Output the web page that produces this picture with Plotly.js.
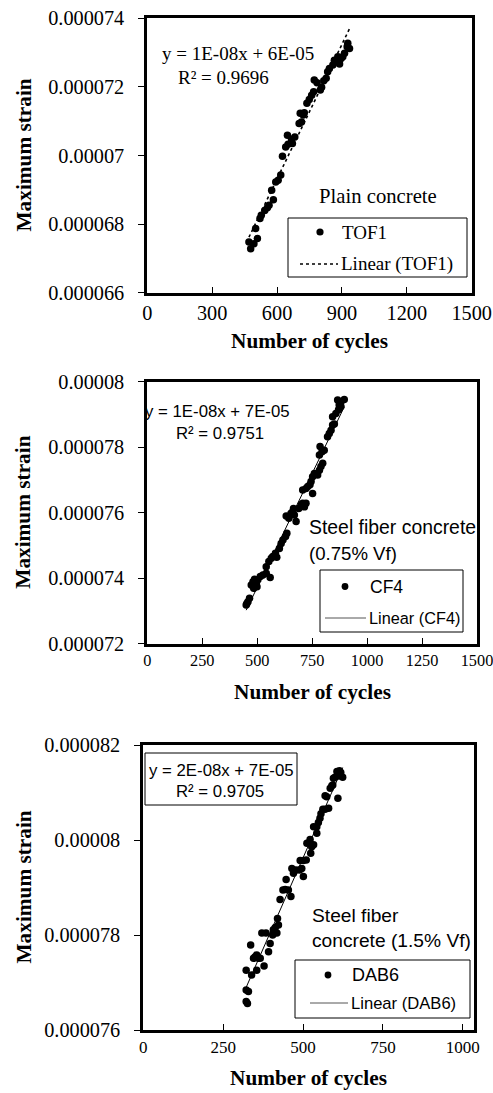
<!DOCTYPE html>
<html>
<head>
<meta charset="utf-8">
<script src="https://cdn.plot.ly/plotly-3.0.1.min.js"></script>
<style>
  html, body { margin: 0; padding: 0; background: #fff; }
  #chart { width: 493px; height: 1093px; }
</style>
</head>
<body>
<div id="chart"></div>
<script>
// ---------- DATA ----------
// Panel 1: Plain concrete (TOF1)
const tof1Cycles = [478,470,493,509,501,521,527,543,555,563,583,575,594,605,617,625,640,651,648,671,667,682,702,713,721,707,726,738,749,760,769,772,785,800,806,816,827,834,842,858,865,881,889,896,904,912,927,935,924];
const tof1Strain = [67.28e-6,67.48e-6,67.43e-6,67.58e-6,67.87e-6,68.16e-6,68.26e-6,68.40e-6,68.48e-6,68.55e-6,68.71e-6,68.99e-6,69.23e-6,69.28e-6,69.43e-6,69.98e-6,70.25e-6,70.33e-6,70.59e-6,70.35e-6,70.47e-6,70.54e-6,70.93e-6,70.98e-6,71.18e-6,71.23e-6,71.25e-6,71.52e-6,71.63e-6,71.76e-6,71.86e-6,72.20e-6,72.12e-6,71.91e-6,71.99e-6,72.18e-6,72.25e-6,72.44e-6,72.54e-6,72.64e-6,72.78e-6,72.88e-6,72.67e-6,72.83e-6,72.88e-6,72.98e-6,73.27e-6,73.12e-6,73.17e-6];

// Panel 2: Steel fiber concrete 0.75% Vf (CF4)
const cf4Cycles = [450,458,465,453,473,484,496,488,503,514,526,541,559,499,481,541,553,564,571,583,589,601,609,617,629,635,632,644,654,662,669,677,665,689,700,707,715,722,707,722,730,740,752,745,752,760,775,783,790,798,783,795,805,786,820,828,836,843,851,843,858,870,873,881,896,866,881];
const cf4Strain = [73.18e-6,73.28e-6,73.39e-6,73.23e-6,73.79e-6,73.69e-6,73.84e-6,73.97e-6,73.95e-6,74.05e-6,74.10e-6,74.15e-6,74.02e-6,73.74e-6,73.89e-6,74.35e-6,74.51e-6,74.61e-6,74.66e-6,74.76e-6,74.64e-6,74.91e-6,75.06e-6,75.17e-6,75.27e-6,75.37e-6,75.90e-6,75.83e-6,75.98e-6,76.03e-6,75.93e-6,75.73e-6,76.13e-6,76.13e-6,76.24e-6,76.29e-6,76.18e-6,76.29e-6,76.69e-6,76.74e-6,76.80e-6,76.85e-6,76.59e-6,76.95e-6,77.10e-6,77.20e-6,77.15e-6,77.30e-6,77.41e-6,77.51e-6,77.76e-6,77.86e-6,77.91e-6,78.02e-6,78.32e-6,78.42e-6,78.52e-6,78.68e-6,78.71e-6,78.93e-6,79.03e-6,79.14e-6,79.29e-6,79.39e-6,79.46e-6,79.44e-6,79.24e-6];

// Panel 3: Steel fiber concrete 1.5% Vf (DAB6)
const dab6Cycles = [322,326,329,322,339,322,355,350,345,355,360,366,378,336,392,397,371,384,405,407,413,418,423,420,428,437,444,454,462,447,465,470,478,489,496,501,491,501,510,512,522,527,524,533,533,543,548,553,556,543,562,569,580,574,569,585,590,593,595,600,609,606,614,618,624,611];
const dab6Strain = [76.60e-6,76.56e-6,76.81e-6,76.84e-6,77.16e-6,77.26e-6,77.26e-6,77.54e-6,77.51e-6,77.58e-6,77.51e-6,77.51e-6,77.35e-6,77.79e-6,77.65e-6,77.82e-6,78.04e-6,78.04e-6,78.00e-6,78.11e-6,78.16e-6,78.04e-6,78.21e-6,78.35e-6,78.75e-6,78.95e-6,78.96e-6,78.95e-6,78.81e-6,79.17e-6,79.40e-6,79.30e-6,79.37e-6,79.37e-6,79.40e-6,79.23e-6,79.57e-6,79.57e-6,79.58e-6,79.93e-6,80.01e-6,79.86e-6,79.72e-6,79.90e-6,80.28e-6,80.28e-6,80.37e-6,80.46e-6,80.55e-6,80.14e-6,80.65e-6,80.65e-6,80.67e-6,80.91e-6,80.93e-6,81.09e-6,81.14e-6,81.16e-6,81.30e-6,81.32e-6,80.88e-6,81.44e-6,81.46e-6,81.42e-6,81.32e-6,81.35e-6];

// Tick labels
const x1Ticks = [0,300,600,900,1200,1500];
const x2Ticks = [0,250,500,750,1000,1250,1500];
const x3Ticks = [0,250,500,750,1000];
const y1Ticks = [0.000066,0.000068,0.00007,0.000072,0.000074];
const y1Labels = ["0.000066","0.000068","0.00007","0.000072","0.000074"];
const y2Ticks = [0.000072,0.000074,0.000076,0.000078,0.00008];
const y2Labels = ["0.000072","0.000074","0.000076","0.000078","0.00008"];
const y3Ticks = [0.000076,0.000078,0.00008,0.000082];
const y3Labels = ["0.000076","0.000078","0.00008","0.000082"];

// Series/legend names and text
const seriesNames = ["TOF1","CF4","DAB6"];
const equations = ["y = 1E-08x + 6E-05","y = 1E-08x + 7E-05","y = 2E-08x + 7E-05"];
const r2Texts = ["R² = 0.9696","R² = 0.9751","R² = 0.9705"];

// ---------- HELPERS ----------
const W = 493, H = 1093;
const PX = v => v / W;
const PY = v => 1 - v / H;

function linfit(xs, ys) {
  const n = xs.length;
  let sx=0, sy=0, sxx=0, sxy=0;
  for (let i=0;i<n;i++){ sx+=xs[i]; sy+=ys[i]; sxx+=xs[i]*xs[i]; sxy+=xs[i]*ys[i]; }
  const b = (n*sxy - sx*sy)/(n*sxx - sx*sx);
  const a = (sy - b*sx)/n;
  const x0 = Math.min(...xs), x1 = Math.max(...xs);
  return {x:[x0,x1], y:[a+b*x0, a+b*x1]};
}

const SERIF = "Liberation Serif, Times New Roman, serif";
const SANS = "Liberation Sans, Arial, sans-serif";

// Plot-area pixel boxes
const boxes = [
  {l:147.3, r:471.7, t:18.3, b:292.7},
  {l:147.3, r:477.0, t:381.7, b:643.7},
  {l:143.3, r:474.0, t:745.0, b:1030.0}
];

const datasets = [
  {x: tof1Cycles, y: tof1Strain, dash: 'dot', lw: 1.6},
  {x: cf4Cycles, y: cf4Strain, dash: 'solid', lw: 1},
  {x: dab6Cycles, y: dab6Strain, dash: 'solid', lw: 1}
];

const traces = [];
datasets.forEach((d, i) => {
  const xa = i === 0 ? 'x' : 'x' + (i+1);
  const ya = i === 0 ? 'y' : 'y' + (i+1);
  traces.push({
    type: 'scatter', mode: 'markers', x: d.x, y: d.y, xaxis: xa, yaxis: ya,
    name: seriesNames[i], showlegend: false,
    marker: {color: '#000', size: 7.5}
  });
  const f = linfit(d.x, d.y);
  traces.push({
    type: 'scatter', mode: 'lines', x: f.x, y: f.y, xaxis: xa, yaxis: ya,
    name: 'Linear (' + seriesNames[i] + ')', showlegend: false,
    line: {color: '#000', width: d.lw, dash: d.dash}
  });
});

const YTICKSIZE = 20.3;
function xAxis(i, range, ticks, tickdir, size) {
  const bx = boxes[i];
  return {
    domain: [PX(bx.l), PX(bx.r)], anchor: i === 0 ? 'y' : 'y' + (i+1),
    range: range, tickvals: ticks, ticktext: ticks.map(String),
    showline: true, linecolor: '#000', linewidth: 3, mirror: true,
    ticks: tickdir, ticklen: 6, tickcolor: '#000', tickwidth: 1,
    showgrid: false, zeroline: false,
    tickfont: {family: SERIF, size: size, color: '#000'},
    ticklabelstandoff: 0, ticklabeloverflow: 'allow'
  };
}
function yAxis(i, range, ticks, labels) {
  const bx = boxes[i];
  return {
    domain: [PY(bx.b), PY(bx.t)], anchor: i === 0 ? 'x' : 'x' + (i+1),
    range: range, tickvals: ticks, ticktext: labels,
    showline: true, linecolor: '#000', linewidth: 3, mirror: true,
    ticks: 'outside', ticklen: 6, tickcolor: '#000', tickwidth: 1,
    showgrid: false, zeroline: false,
    tickfont: {family: SERIF, size: YTICKSIZE, color: '#000'},
    ticklabelstandoff: 10, ticklabeloverflow: 'allow'
  };
}

const ann = [];
const shapes = [];
function txt(text, x, y, font, size, xanchor, bold) {
  ann.push({
    xref: 'paper', yref: 'paper', x: PX(x), y: PY(y), text: bold ? '<b>' + text + '</b>' : text,
    showarrow: false, xanchor: xanchor || 'center', yanchor: 'middle',
    font: {family: font, size: size, color: '#000'}
  });
}
function rect(x0, y0, x1, y1) {
  shapes.push({type: 'rect', xref: 'paper', yref: 'paper', x0: PX(x0), x1: PX(x1), y0: PY(y1), y1: PY(y0),
    line: {color: '#000', width: 1}, fillcolor: 'rgba(255,255,255,0)'});
}
function dot(cx, cy, r) {
  shapes.push({type: 'circle', xref: 'paper', yref: 'paper', x0: PX(cx - r), x1: PX(cx + r), y0: PY(cy + r), y1: PY(cy - r),
    line: {color: '#000', width: 0}, fillcolor: '#000'});
}
function hline(x0, x1, y, dash, w, color) {
  shapes.push({type: 'line', xref: 'paper', yref: 'paper', x0: PX(x0), x1: PX(x1), y0: PY(y), y1: PY(y),
    line: {color: color || '#000', width: w || 1, dash: dash || 'solid'}});
}

// Axis titles
boxes.forEach((bx, i) => {
  txt('Number of cycles', (bx.l + bx.r) / 2, bx.b + 48, SERIF, 21.3, 'center', true);
  ann.push({
    xref: 'paper', yref: 'paper', x: PX(23), y: PY((bx.t + bx.b) / 2), text: '<b>Maximum strain</b>',
    showarrow: false, textangle: -90, xanchor: 'center', yanchor: 'middle',
    font: {family: SERIF, size: 21.3, color: '#000'}
  });
});

// Panel 1 texts
txt(equations[0], 237.5, 53, SERIF, 19);
txt(r2Texts[0], 223, 77, SERIF, 19);
txt('Plain concrete', 377.5, 196, SERIF, 20.7);
rect(288, 218, 467, 277);
dot(320, 232, 3.6);
txt(seriesNames[0], 340, 232, SERIF, 19, 'left');
hline(300, 338, 264, 'dot', 1.6);
txt('Linear (' + seriesNames[0] + ')', 339, 264, SERIF, 19, 'left');

// Panel 2 texts
txt(equations[1], 217.5, 411.5, SANS, 16.8);
txt(r2Texts[1], 220, 433, SANS, 16.8);
txt('Steel fiber concrete', 307, 527, SANS, 19.4, 'left');
txt('(0.75% Vf)', 307, 553, SANS, 18.6, 'left');
rect(320, 570, 463, 632);
dot(345, 586.5, 3.4);
txt(seriesNames[1], 368, 586.5, SANS, 17.5, 'left');
hline(325, 366, 618, 'solid', 1, '#555');
txt('Linear (' + seriesNames[1] + ')', 367, 618, SANS, 16.3, 'left');

// Panel 3 texts
rect(145, 753, 297, 805);
txt(equations[2], 221, 770, SANS, 16.8);
txt(r2Texts[2], 220, 791.5, SANS, 16.8);
txt('Steel fiber', 310, 915, SANS, 19.2, 'left');
txt('concrete (1.5% Vf)', 310, 940, SANS, 19.2, 'left');
rect(295, 960, 470, 1018);
dot(328, 975, 3.4);
txt(seriesNames[2], 350, 975, SANS, 18, 'left');
hline(310, 348, 1003, 'solid', 1, '#555');
txt('Linear (' + seriesNames[2] + ')', 349, 1003, SANS, 16.6, 'left');

const layout = {
  width: W, height: H,
  margin: {l: 0, r: 0, t: 0, b: 0},
  paper_bgcolor: '#fff', plot_bgcolor: '#fff',
  showlegend: false,
  xaxis: xAxis(0, [0, 1500], x1Ticks, 'inside', 20.3),
  yaxis: yAxis(0, [0.000066, 0.000074], y1Ticks, y1Labels),
  xaxis2: xAxis(1, [0, 1500], x2Ticks, 'inside', 16.3),
  yaxis2: yAxis(1, [0.000072, 0.00008], y2Ticks, y2Labels),
  xaxis3: xAxis(2, [0, 1035], x3Ticks, 'inside', 17),
  yaxis3: yAxis(2, [0.000076, 0.000082], y3Ticks, y3Labels),
  annotations: ann,
  shapes: shapes
};

Plotly.newPlot('chart', traces, layout, {staticPlot: true, displayModeBar: false});
</script>
</body>
</html>
